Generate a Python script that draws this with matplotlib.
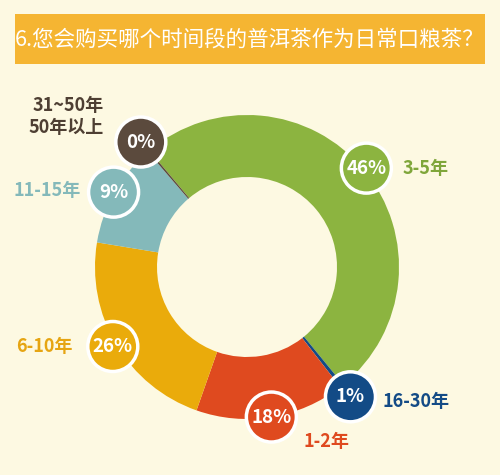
import numpy as np
import matplotlib.pyplot as plt

plt.rcParams['font.family'] = ['Noto Sans CJK SC', 'DejaVu Sans']

# arc shares as drawn in the picture (clockwise, starting at the brown/green seam)
labels = ['3-5年', '16-30年', '1-2年', '6-10年', '11-15年', '31~50年\n50年以上']
shares = [50.2, 0.4, 15.9, 22.2, 11.1, 0.2]
pct_text = ['46%', '1%', '18%', '26%', '9%', '0%']
colors = ['#8cb440', '#134b86', '#df4a1f', '#eaab0b', '#84b9ba', '#5b4a3d']
text_colors = ['#7fa63a', '#134b86', '#df4a1f', '#e6a512', '#84b9ba', '#4e3f33']

bg = '#fdf9e2'
fig = plt.figure(figsize=(5, 4.75), dpi=100, facecolor=bg)
ax = fig.add_axes([0, 0, 1, 1])
ax.set_facecolor(bg)

cx, cy, R, ring = 247, 267, 152, 62
wedges, _ = ax.pie(shares, colors=colors, startangle=-130, counterclock=True,
                   radius=R, center=(cx, cy), frame=True,
                   wedgeprops=dict(width=ring, linewidth=0))
ax.set_xlim(0, 500)
ax.set_ylim(475, 0)
ax.set_aspect('equal')
ax.axis('off')

# bubble distance from centre and label placement (offset, alignment)
dist = [155, 166, 152, 156, 153, 164]
lab_off = [(36, 0, 'left'), (32, 5, 'left'), (32, 24, 'left'),
           (-40, 0, 'right'), (-33, -2, 'right'), (-37, -26, 'right')]

for w, p, c, tc, lab, d, (dx, dy, ha) in zip(wedges, pct_text, colors, text_colors,
                                             labels, dist, lab_off):
    mid = np.deg2rad((w.theta1 + w.theta2) / 2)
    bx = cx + d * np.cos(mid)
    by = cy + d * np.sin(mid)
    ax.add_patch(plt.Circle((bx, by), 25, facecolor=c, edgecolor='white',
                            linewidth=2.5, zorder=5))
    ax.text(bx, by, p, color='white', fontsize=13.5, fontweight='bold',
            ha='center', va='center', zorder=6)
    ax.text(bx + dx, by + dy, lab, color=tc, fontsize=13, fontweight='bold',
            ha=ha, va='center', linespacing=1.2, zorder=6)

# title bar
ax.add_patch(plt.Rectangle((15, 14), 470, 50, facecolor='#f5b532', edgecolor='none'))
ax.text(250, 40, '6.您会购买哪个时间段的普洱茶作为日常口粮茶？', color='white',
        fontsize=15.5, ha='center', va='center')

plt.savefig('out.png', dpi=100, facecolor=bg)
